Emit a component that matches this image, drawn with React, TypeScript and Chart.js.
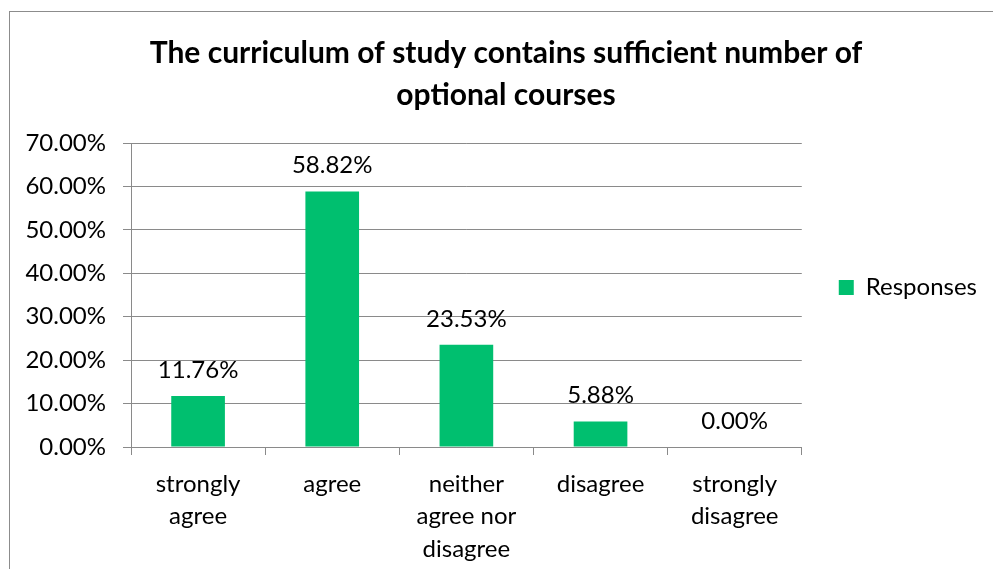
import React, { useEffect, useRef } from "react";
import { Chart, registerables } from "chart.js";

Chart.register(...registerables);

const titleLines = ["The curriculum of study contains sufficient number of", "optional courses"];
const categories = [["strongly", "agree"], ["agree"], ["neither", "agree nor", "disagree"], ["disagree"], ["strongly", "disagree"]];
const seriesName = "Responses";
const responses = [11.76, 58.82, 23.53, 5.88, 0.0];
const yMax = 70;
const yStep = 10;

const FONT = "Lato, 'Open Sans', sans-serif";
const GREEN = "#00BF6F";
const GRID = "#8a8a8a";

const valueLabels = {
  id: "valueLabels",
  afterDatasetsDraw(chart: any) {
    const ctx = chart.ctx;
    const meta = chart.getDatasetMeta(0);
    ctx.save();
    ctx.font = `24px ${FONT}`;
    ctx.fillStyle = "#000";
    ctx.textAlign = "center";
    ctx.textBaseline = "middle";
    meta.data.forEach((el: any, i: number) => {
      const v = chart.data.datasets[0].data[i] as number;
      ctx.fillText(v.toFixed(2) + "%", el.x, el.y - 26);
    });
    ctx.restore();
  },
};

export default function App() {
  const ref = useRef<HTMLCanvasElement>(null);
  useEffect(() => {
    if (!ref.current) return;
    const chart = new Chart(ref.current, {
      type: "bar",
      data: {
        labels: categories,
        datasets: [
          {
            label: seriesName,
            data: responses,
            backgroundColor: GREEN,
            borderWidth: 0,
            barPercentage: 0.4,
            categoryPercentage: 1,
          },
        ],
      },
      options: {
        responsive: false,
        animation: false,
        devicePixelRatio: 1,
        layout: { padding: { left: 25, right: 6, top: 10, bottom: 4 } },
        plugins: {
          title: {
            display: true,
            text: titleLines,
            color: "#000",
            font: { family: FONT, size: 30, weight: "bold", lineHeight: 1.4 },
            padding: { top: 22, bottom: 27 },
          },
          legend: {
            position: "right",
            labels: {
              color: "#000",
              font: { family: FONT, size: 24 },
              boxWidth: 15,
              boxHeight: 15,
              padding: 37,
            },
          },
          tooltip: { enabled: false },
        },
        scales: {
          x: {
            grid: { drawOnChartArea: false, drawTicks: true, tickLength: 8, color: GRID, offset: true },
            border: { color: GRID, width: 1 },
            afterFit: (scale: any) => {
              scale.height = 118;
            },
            ticks: {
              color: "#000",
              font: { family: FONT, size: 24, lineHeight: 1.35 },
              padding: 13,
              maxRotation: 0,
              autoSkip: false,
            },
          },
          y: {
            min: 0,
            max: yMax,
            grid: { color: GRID, drawTicks: true, tickLength: 8 },
            border: { color: GRID, width: 1 },
            afterFit: (scale: any) => {
              scale.width = 106;
            },
            ticks: {
              stepSize: yStep,
              color: "#000",
              font: { family: FONT, size: 24 },
              padding: 17,
              callback: (v: any) => Number(v).toFixed(2) + "%",
            },
          },
        },
      },
      plugins: [valueLabels],
    });
    return () => chart.destroy();
  }, []);
  return (
    <div style={{ position: "fixed", left: 0, top: 0, width: 993, height: 569, overflow: "hidden", background: "#fff" }}>
      <div style={{ position: "absolute", left: 9, top: 11, width: 1100, height: 700, border: "1px solid #8c8c8c" }} />
      <canvas ref={ref} width={993} height={569} style={{ position: "absolute", left: 0, top: 0 }} />
    </div>
  );
}
